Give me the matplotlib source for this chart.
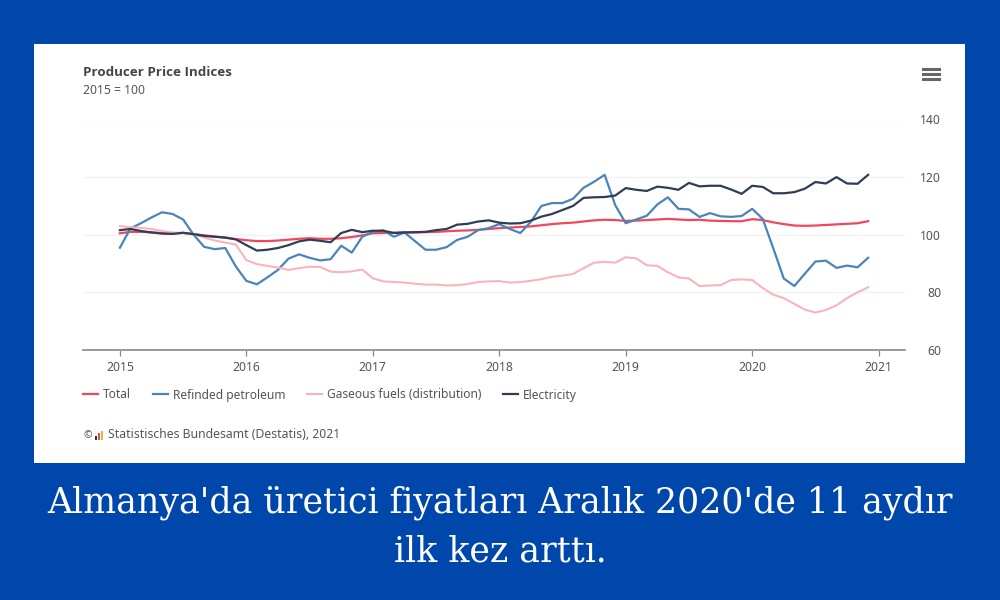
import numpy as np
import matplotlib.pyplot as plt
from matplotlib.patches import Rectangle
from matplotlib.lines import Line2D

plt.rcParams['font.family'] = ['Noto Sans', 'DejaVu Sans']

# months since Jan 2015
months = np.arange(72)
year_ticks = [0, 12, 24, 36, 48, 60, 72]
year_labels = ['2015', '2016', '2017', '2018', '2019', '2020', '2021']
y_ticks = [60, 80, 100, 120, 140]

total = [100.5, 101, 101, 100.8, 100.6, 100.5, 100.6, 100.2, 99.8, 99.4, 99, 98.5,
         98.1, 97.8, 97.8, 98, 98.3, 98.6, 98.8, 98.6, 98.6, 98.8, 99.2, 99.8,
         100.5, 100.6, 100.7, 100.8, 100.8, 100.9, 101, 101.2, 101.4, 101.5, 101.7, 102,
         102.3, 102.5, 102.7, 102.9, 103.3, 103.7, 104, 104.2, 104.6, 105, 105.2, 105.1,
         104.8, 104.9, 105.1, 105.3, 105.5, 105.3, 105.1, 105.2, 104.9, 104.8, 104.7, 104.7,
         105.4, 105.1, 104.3, 103.7, 103.2, 103.1, 103.2, 103.4, 103.6, 103.8, 104, 104.7]
petroleum = [95.5, 102.2, 104, 106, 107.8, 107.2, 105.3, 100, 95.8, 95, 95.4, 89,
             84, 82.8, 85.2, 87.8, 91.7, 93.2, 92, 91.1, 91.5, 96.2, 93.8, 99.3,
             101, 101.5, 99.3, 100.8, 97.8, 94.8, 94.8, 95.7, 98.2, 99.3, 101.6, 102.3,
             103.7, 102, 100.6, 104.5, 110, 111, 111, 112.5, 116.3, 118.4, 120.8, 110.3,
             104, 105.3, 106.6, 110.5, 113, 109, 108.8, 106.2, 107.5, 106.4, 106.2, 106.5,
             109, 105.5, 95.3, 84.8, 82.2, 86.5, 90.7, 91, 88.5, 89.3, 88.7, 92]
gas = [103, 102.6, 102.4, 102, 101.3, 100.8, 100.6, 100.2, 99, 98, 97.3, 96.6,
       91.2, 89.8, 89.2, 88.6, 87.8, 88.4, 88.9, 88.8, 87.2, 87, 87.3, 87.9,
       84.9, 83.8, 83.6, 83.4, 83, 82.7, 82.7, 82.4, 82.5, 82.9, 83.6, 83.8,
       83.9, 83.4, 83.6, 84, 84.6, 85.4, 85.8, 86.4, 88.4, 90.3, 90.6, 90.3,
       92.2, 91.8, 89.4, 89.2, 87, 85.2, 84.8, 82.2, 82.4, 82.5, 84.3, 84.5,
       84.3, 81.5, 79.2, 78, 76, 74, 73, 73.9, 75.5, 78, 80, 81.8]
electricity = [101.6, 102, 101.3, 100.8, 100.4, 100.3, 100.7, 100.2, 99.6, 99.3, 99, 98.4,
               96.4, 94.5, 94.8, 95.4, 96.4, 97.7, 98.3, 97.9, 97.4, 100.6, 101.7, 100.9,
               101.4, 101.4, 100.6, 100.8, 100.9, 101, 101.6, 102, 103.5, 103.8, 104.6, 105,
               104.2, 103.9, 104, 104.9, 106.3, 107.2, 108.6, 110, 112.8, 113, 113.1, 113.6,
               116.2, 115.6, 115.2, 116.7, 116.3, 115.6, 118, 116.8, 117, 117, 115.7, 114.2,
               117, 116.6, 114.4, 114.4, 114.8, 116, 118.3, 117.8, 120, 117.8, 117.7, 120.8]

W, H = 1000, 600
fig = plt.figure(figsize=(10, 6), dpi=100, facecolor='#0047ab')

def fx(px):
    return px / W

def fy(py):
    return 1 - py / H

# white card behind the chart
fig.add_artist(Rectangle((fx(34), fy(463)), fx(931), 419 / H, transform=fig.transFigure,
                         facecolor='white', edgecolor='none', zorder=0))

ax = fig.add_axes([fx(83), fy(350), fx(822), 230.5 / H])
ax.patch.set_alpha(0)
ax.plot(months, total, color='#f0475c', lw=1.6, label='Total')
ax.plot(months, petroleum, color='#4a84bb', lw=1.6, label='Refinded petroleum')
ax.plot(months, gas, color='#fab4b9', lw=1.5, label='Gaseous fuels (distribution)')
ax.plot(months, electricity, color='#2f3d57', lw=1.6, label='Electricity')

ax.set_xlim(-3.5, 74.5)
ax.set_ylim(60, 140)
ax.set_xticks(year_ticks)
ax.set_xticklabels(year_labels)
ax.yaxis.tick_right()
ax.set_yticks(y_ticks)
ax.grid(axis='y', color='#f3f3f3', lw=1)
ax.set_axisbelow(True)
for side in ['top', 'left', 'right']:
    ax.spines[side].set_visible(False)
ax.spines['bottom'].set_color('#999999')
ax.spines['bottom'].set_linewidth(1.4)
ax.tick_params(axis='x', length=4, width=0.9, color='#888888', labelcolor='#555555',
               labelsize=8.8, pad=4)
ax.tick_params(axis='y', length=0, labelcolor='#555555', labelsize=8.8, pad=26)
for lab in ax.get_yticklabels():
    lab.set_ha('right')

handles, labels = ax.get_legend_handles_labels()
fig.legend(handles, labels, loc='center left', bbox_to_anchor=(fx(83), fy(395)), ncol=4,
           frameon=False, fontsize=8.6, labelcolor='#555555', handlelength=1.25,
           handletextpad=0.4, columnspacing=1.85, borderaxespad=0, borderpad=0)

fig.text(fx(83), fy(72), 'Producer Price Indices', fontsize=9.6, fontweight='bold',
         family='Open Sans', color='#444444', va='center')
fig.text(fx(83), fy(90), '2015 = 100', fontsize=8.8, color='#555555', va='center')

# source line with the small logo
fig.text(fx(83), fy(435.5), '©', fontsize=7.5, color='#555555', va='center')
logo_bars = [(95, 4, '#333333'), (98, 7, '#d9534f'), (101, 9, '#e8b23a')]
for bx, bh, bc in logo_bars:
    fig.add_artist(Rectangle((fx(bx), fy(440)), fx(2), bh / H, transform=fig.transFigure,
                             facecolor=bc, edgecolor='none'))
fig.text(fx(108), fy(435), 'Statistisches Bundesamt (Destatis), 2021', fontsize=8.8,
         color='#555555', va='center')

# menu icon
for my in [69, 74, 79]:
    fig.add_artist(Line2D([fx(923), fx(939)], [fy(my), fy(my)], transform=fig.transFigure,
                          color='#666666', lw=2.2))

fig.text(0.5, fy(503), "Almanya'da üretici fiyatları Aralık 2020'de 11 aydır", fontsize=25,
         family='DejaVu Serif', color='white', ha='center', va='center')
fig.text(0.5, fy(552), 'ilk kez arttı.', fontsize=25, family='DejaVu Serif', color='white',
         ha='center', va='center')

fig.savefig('out.png', dpi=100, facecolor=fig.get_facecolor())
